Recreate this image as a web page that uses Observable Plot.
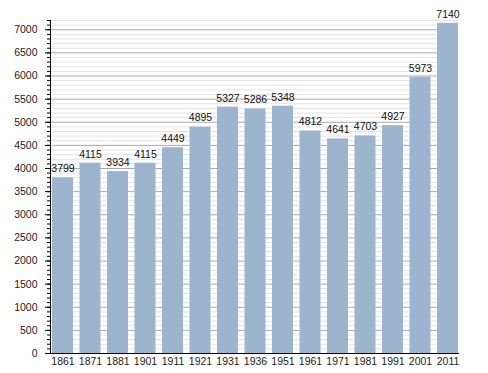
<!DOCTYPE html>
<html><head><meta charset="utf-8">
<script src="https://cdn.jsdelivr.net/npm/d3@7"></script>
<script src="https://cdn.jsdelivr.net/npm/@observablehq/plot@0.6"></script>
<style>body{margin:0;background:#fff;font-family:"Liberation Sans",Arial,sans-serif;}</style>
</head><body><div id="chart"></div>
<script>
const years = ["1861","1871","1881","1901","1911","1921","1931","1936","1951","1961","1971","1981","1991","2001","2011"];
const population = [3799,4115,3934,4115,4449,4895,5327,5286,5348,4812,4641,4703,4927,5973,7140];
const majorTicks = d3.range(0, 7001, 500);
const minorTicks = d3.range(0, 7201, 100);

const data = years.map((y, i) => ({year: y, pop: population[i]}));

const chart = Plot.plot({
  width: 488, height: 373,
  marginLeft: 50, marginRight: 30, marginTop: 20, marginBottom: 20,
  style: {fontFamily: "'Liberation Sans', Arial, sans-serif", fontSize: "10.5px", color: "#222", background: "#fff"},
  x: {domain: years, paddingInner: 0.236, paddingOuter: 0, insetLeft: 2, round: false, label: null},
  y: {domain: [0, 7200], label: null},
  marks: [
    Plot.ruleY(minorTicks.filter(v => v % 500 !== 0), {stroke: "#e2e2e2"}),
    Plot.ruleY(majorTicks.filter(v => v > 0), {stroke: "#a8a8a8"}),
    Plot.barY(data, {x: "year", y: "pop", fill: "#9db4cf"}),
    Plot.text(data, {x: "year", y: "pop", text: d => String(d.pop), dy: -9, fontSize: 10.5, fill: "#111"}),
    Plot.axisY({ticks: minorTicks, tickSize: 3, text: null, stroke: "#000"}),
    Plot.axisY({ticks: majorTicks, tickSize: 5, tickPadding: 8, tickFormat: d => String(d), stroke: "#000", fill: "#222", label: null}),
    Plot.axisX({tickSize: 0, tickPadding: 4, fill: "#222", label: null}),
    Plot.frame({anchor: "left", stroke: "#000"}),
    Plot.frame({anchor: "bottom", stroke: "#000"})
  ]
});
document.getElementById("chart").appendChild(chart);
</script></body></html>
